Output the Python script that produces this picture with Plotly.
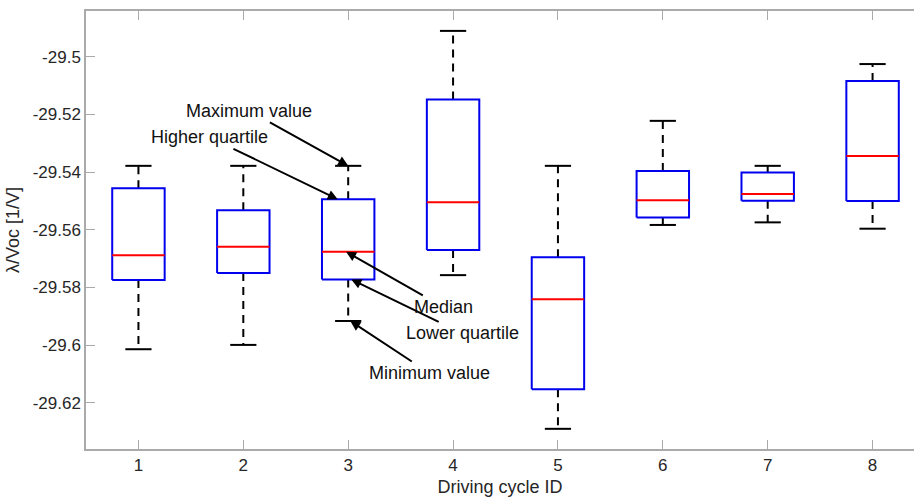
import plotly.graph_objects as go

cycles = [1, 2, 3, 4, 5, 6, 7, 8]
upper = [-29.5378, -29.5378, -29.5378, -29.4910, -29.5378, -29.5222, -29.5378, -29.5025]
q3 = [-29.5456, -29.5532, -29.5494, -29.5148, -29.5695, -29.5396, -29.5401, -29.5084]
median = [-29.5688, -29.5659, -29.5676, -29.5504, -29.5841, -29.5497, -29.5476, -29.5344]
q1 = [-29.5774, -29.5750, -29.5772, -29.5670, -29.6153, -29.5557, -29.5499, -29.5500]
lower = [-29.6014, -29.5999, -29.5916, -29.5757, -29.6290, -29.5583, -29.5574, -29.5596]
tick_vals = [-29.5, -29.52, -29.54, -29.56, -29.58, -29.6, -29.62]
tick_text = ["-29.5", "-29.52", "-29.54", "-29.56", "-29.58", "-29.6", "-29.62"]

BW = 0.25   # half box width
CW = 0.125  # half cap width

bx, by, mx, my, wx, wy, cx, cy = [], [], [], [], [], [], [], []
for c, hi, a, m, b, lo in zip(cycles, upper, q3, median, q1, lower):
    bx += [c - BW, c + BW, c + BW, c - BW, c - BW, None]
    by += [b, b, a, a, b, None]
    mx += [c - BW, c + BW, None]
    my += [m, m, None]
    wx += [c, c, None, c, c, None]
    wy += [a, hi, None, b, lo, None]
    cx += [c - CW, c + CW, None, c - CW, c + CW, None]
    cy += [hi, hi, None, lo, lo, None]

fig = go.Figure()
fig.add_trace(go.Scatter(x=wx, y=wy, mode="lines", line=dict(color="black", width=2, dash="8px,6px"),
                         hoverinfo="skip", showlegend=False))
fig.add_trace(go.Scatter(x=cx, y=cy, mode="lines", line=dict(color="black", width=2),
                         hoverinfo="skip", showlegend=False))
fig.add_trace(go.Scatter(x=bx, y=by, mode="lines", line=dict(color="#0000ee", width=2),
                         hoverinfo="skip", showlegend=False))
fig.add_trace(go.Scatter(x=mx, y=my, mode="lines", line=dict(color="#ff0000", width=2),
                         hoverinfo="skip", showlegend=False))

FONT = "Arial, Liberation Sans, Helvetica, sans-serif"
ann_style = dict(showarrow=True, arrowhead=2, arrowsize=1, arrowwidth=2, arrowcolor="black",
                 font=dict(family=FONT, size=18, color="#111111"), xref="x", yref="y")
i3 = 2
annotations = [
    dict(text="Maximum value", x=3.0, y=upper[i3], ax=-99, ay=-55),
    dict(text="Higher quartile", x=2.9, y=q3[i3], ax=-128, ay=-62),
    dict(text="Median", x=2.98, y=median[i3], ax=97, ay=55),
    dict(text="Lower quartile", x=3.03, y=q1[i3], ax=111, ay=54),
    dict(text="Minimum value", x=3.02, y=lower[i3], ax=79, ay=52),
]
for a in annotations:
    a.update(ann_style)

fig.update_layout(
    width=914, height=498,
    margin=dict(l=86, r=0, t=11, b=49),
    paper_bgcolor="white", plot_bgcolor="white",
    font=dict(family=FONT, size=16, color="#262626"),
    annotations=annotations,
    xaxis=dict(range=[0.5, 8.395], tickvals=cycles, ticktext=[str(c) for c in cycles],
               ticks="inside", ticklen=9, tickwidth=1, tickcolor="#aaaaaa",
               showline=True, linecolor="#aaaaaa", linewidth=1.5, mirror="ticks",
               showgrid=False, zeroline=False,
               tickfont=dict(size=17, color="#262626"),
               title=dict(text="Driving cycle ID", font=dict(size=18, color="#262626"), standoff=6)),
    yaxis=dict(range=[-29.636, -29.4841], tickvals=tick_vals, ticktext=tick_text,
               ticks="inside", ticklen=9, tickwidth=1, tickcolor="#aaaaaa",
               showline=True, linecolor="#aaaaaa", linewidth=1.5,
               showgrid=False, zeroline=False,
               tickfont=dict(size=17, color="#262626"),
               title=dict(text="λ/Voc [1/V]", font=dict(size=18, color="#262626"), standoff=8)),
)

fig.write_html("out.html")
